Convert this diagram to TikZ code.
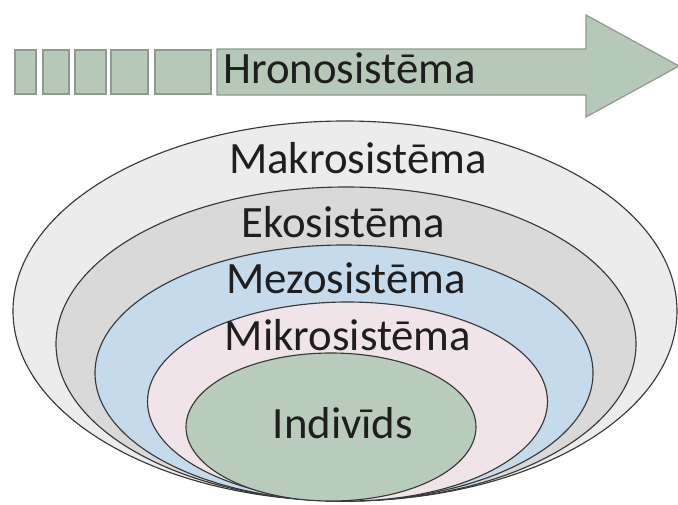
\documentclass[tikz,border=0pt]{standalone}
\usepackage{fontspec}
\setmainfont{Carlito}
\usepackage{tikz}

\definecolor{sage}{HTML}{B6C9B8}
\definecolor{sageline}{HTML}{8E9A90}
\definecolor{makro}{HTML}{ECECEC}
\definecolor{eko}{HTML}{D9D9D9}
\definecolor{mezo}{HTML}{C5DBEB}
\definecolor{mikro}{HTML}{F1E4E9}
\definecolor{indiv}{HTML}{B9CCBB}
\definecolor{ink}{HTML}{1E1E1E}

\begin{document}
\begin{tikzpicture}[x=0.75pt,y=-0.75pt,
  lbl/.style={anchor=base,text=ink,font=\fontsize{33.6}{40}\selectfont,inner sep=0pt},
  ring/.style={draw=black!78,line width=0.85pt},
  block/.style={fill=sage,draw=sageline,line width=0.9pt}]
\useasboundingbox (0,0) rectangle (678,504);

\draw[block] (15,50) rectangle (36,94);
\draw[block] (43,50) rectangle (69,94);
\draw[block] (75,50) rectangle (106,94);
\draw[block] (111,50) rectangle (148,94);
\draw[block] (155,50) rectangle (211,94);
\draw[block] (217,49) -- (586,49) -- (586,15) -- (679,66) -- (586,117) -- (586,95) -- (217,95) -- cycle;
\node (HS) [lbl] at (349.5,83) {Hronosistēma};

\draw[ring,fill=makro] (345,311) ellipse [x radius=332, y radius=190];
\draw[ring,fill=eko] (346,344) ellipse [x radius=290, y radius=157];
\draw[ring,fill=mezo] (344,373) ellipse [x radius=249, y radius=128];
\draw[ring,fill=mikro] (347.5,401.5) ellipse [x radius=200, y radius=99.5];
\draw[ring,fill=indiv] (331,427) ellipse [x radius=145, y radius=74];

\node (MaS) [lbl] at (358,173) {Makrosistēma};
\node (EkS) [lbl] at (343,237) {Ekosistēma};
\node (MeS) [lbl] at (346,293) {Mezosistēma};
\node (MiS) [lbl] at (348,350) {Mikrosistēma};
\node (IS) [lbl] at (343,438) {Indivīds};
\end{tikzpicture}
\end{document}
